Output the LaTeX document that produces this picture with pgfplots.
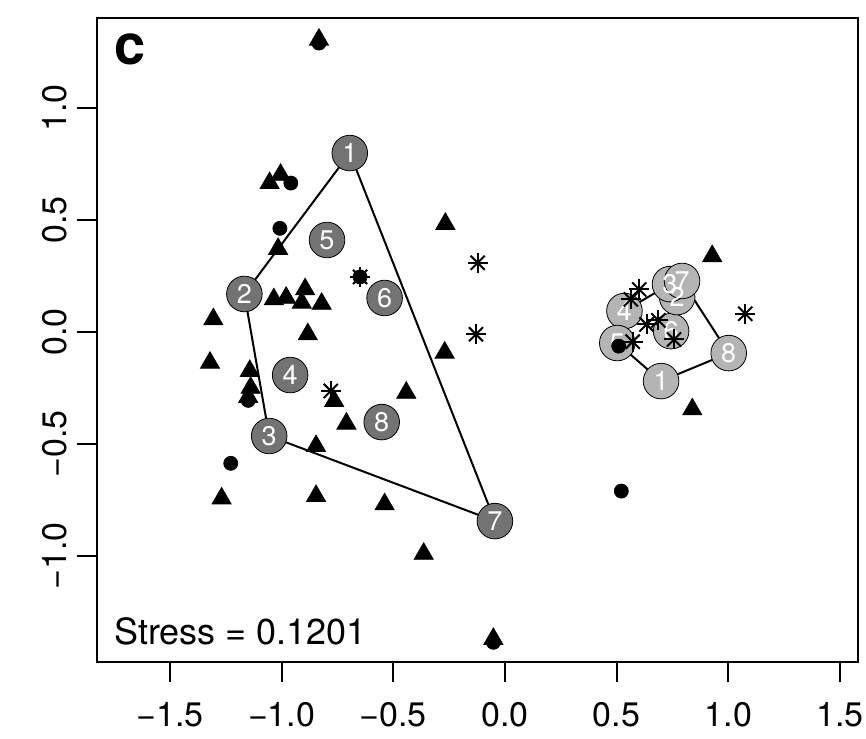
\documentclass[border=0pt]{standalone}
\usepackage{fontspec}
\setmainfont{TeX Gyre Heros}
\usepackage{pgfplots}
\pgfplotsset{compat=1.18}
\definecolor{darkc}{RGB}{115,115,115}
\definecolor{lightc}{RGB}{180,180,180}

\pgfplotstableread{
x y lab
-0.695 0.799 1
-1.167 0.170 2
-1.056 -0.464 3
-0.962 -0.192 4
-0.797 0.411 5
-0.539 0.152 6
-0.045 -0.844 7
-0.552 -0.402 8
}\darkgrp
\pgfplotstableread{
x y lab
0.699 -0.219 1
0.535 0.094 4
0.503 -0.049 5
0.744 0.004 6
0.771 0.156 2
0.739 0.214 3
0.793 0.228 7
1.002 -0.094 8
}\lightgrp

\begin{document}
\begin{tikzpicture}
\path[use as bounding box] (-48.5pt,-38pt) rectangle (384.5pt,331pt);
\begin{axis}[
    at={(0,0)}, anchor=south west,
    scale only axis,
    width=380.5pt, height=322pt,
    xmin=-1.827, xmax=1.581,
    ymin=-1.473, ymax=1.402,
    axis line style={line width=1pt},
    tick style={line width=1pt, black},
    tick align=outside, tick pos=left,
    major tick length=10pt,
    xtick={-1.5,-1,-0.5,0,0.5,1,1.5},
    xticklabels={−1.5,−1.0,−0.5,0.0,0.5,1.0,1.5},
    ytick={-1,-0.5,0,0.5,1},
    yticklabels={−1.0,−0.5,0.0,0.5,1.0},
    ticklabel style={font=\fontsize{17}{17}\selectfont},
    xticklabel style={yshift=-6.5pt},
    yticklabel style={xshift=-1.5pt, rotate=90, anchor=south},
    clip=false,
    grplab/.style={only marks, mark=none, nodes near coords, point meta=explicit symbolic,
      every node near coord/.style={anchor=center, text=white, inner sep=0pt,
        font=\fontsize{13.5}{13.5}\selectfont}},
]
% hulls
\addplot[black, line width=1pt] coordinates {
(-0.695,0.799) (-1.167,0.170) (-1.056,-0.464) (-0.045,-0.844) (-0.695,0.799)};
\addplot[black, line width=1pt] coordinates {
(0.699,-0.219) (0.503,-0.049) (0.535,0.094) (0.739,0.214) (0.793,0.228) (1.002,-0.094) (0.699,-0.219)};

% group centroids, circles first, then their numbers
\addplot[only marks, mark=*, mark size=8.9pt, mark options={draw=none, fill=darkc}] table {\darkgrp};
\addplot[only marks, mark=*, mark size=8.9pt, mark options={draw=none, fill=lightc}] table {\lightgrp};
\addplot[grplab] table[meta=lab] {\darkgrp};
\addplot[grplab] table[meta=lab] {\lightgrp};

% sites: triangles
\addplot[only marks, mark=triangle*, mark size=5.5pt, mark options={draw=none, fill=black}] coordinates {
(-0.833,1.305) (-1.054,0.665) (-1.005,0.702) (-1.016,0.371)
(-1.306,0.057) (-1.035,0.146) (-0.980,0.153) (-0.895,0.191)
(-0.910,0.131) (-0.821,0.126) (-0.883,-0.010) (-1.321,-0.137)
(-1.143,-0.174) (-1.139,-0.249) (-1.150,-0.290) (-0.765,-0.308)
(-0.710,-0.409) (-0.442,-0.271) (-0.270,-0.092) (-0.267,0.483)
(-0.846,-0.509) (-1.269,-0.743) (-0.846,-0.732) (-0.539,-0.769)
(-0.364,-0.990) (-0.052,-1.370) (0.928,0.339) (0.839,-0.345)};
% sites: circles
\addplot[only marks, mark=*, mark size=3.5pt, mark options={draw=none, fill=black}] coordinates {
(-0.833,1.290) (-0.959,0.665) (-1.008,0.463) (-0.649,0.246)
(-1.150,-0.305) (-1.228,-0.586) (0.521,-0.710) (0.509,-0.063)
(-0.052,-1.385)};
% sites: asterisks
\addplot[only marks, mark=+, mark size=5pt, mark options={line width=1pt, draw=black}] coordinates {
(-0.649,0.246) (-0.780,-0.263) (-0.122,0.309) (-0.130,-0.010)
(0.601,0.190) (0.564,0.146) (0.634,0.034) (0.687,0.052)
(0.572,-0.043) (0.757,-0.033) (1.076,0.082)};
\addplot[only marks, mark=x, mark size=5pt, mark options={line width=1pt, draw=black}] coordinates {
(-0.649,0.246) (-0.780,-0.263) (-0.122,0.309) (-0.130,-0.010)
(0.601,0.190) (0.564,0.146) (0.634,0.034) (0.687,0.052)
(0.572,-0.043) (0.757,-0.033) (1.076,0.082)};

\node[anchor=base west, inner sep=0pt, font=\fontsize{28}{28}\bfseries\selectfont] at (axis cs:-1.75,1.196) {c};
\node[anchor=base west, inner sep=0pt, font=\fontsize{18}{18}\selectfont] at (axis cs:-1.751,-1.397) {Stress = 0.1201};
\end{axis}
\end{tikzpicture}
\end{document}
